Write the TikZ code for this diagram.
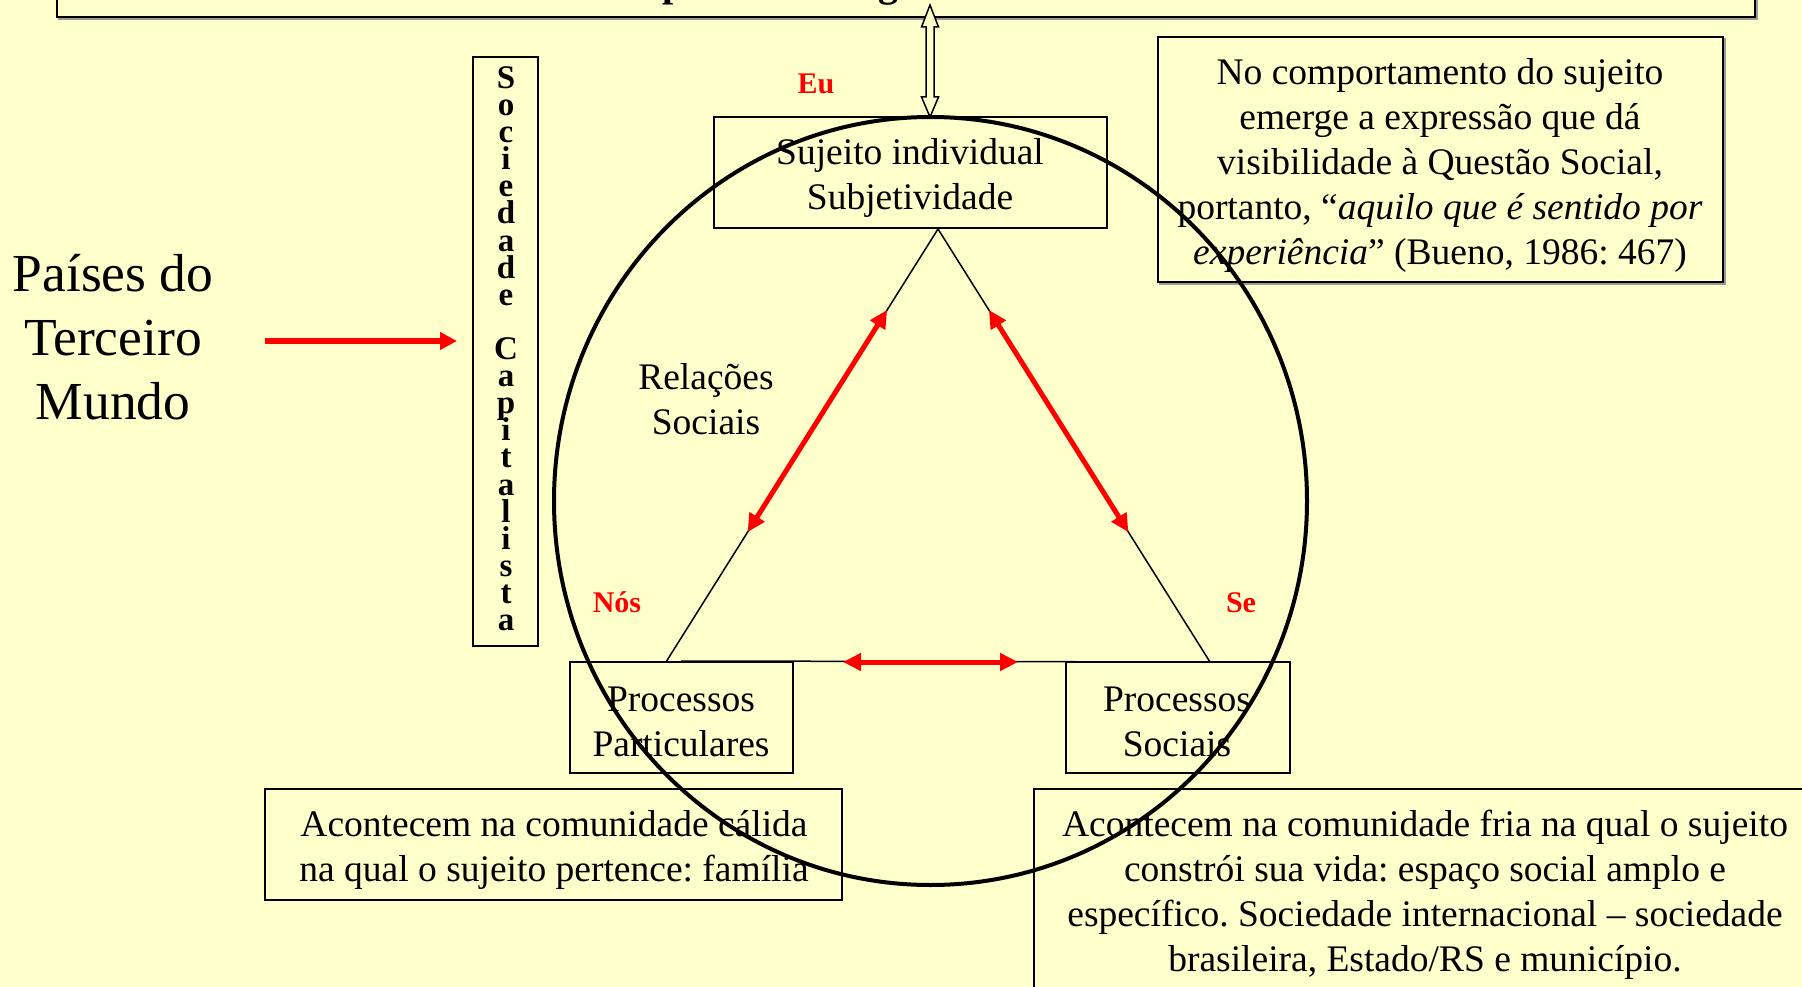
\documentclass[tikz,border=0pt]{standalone}
\usepackage{fontspec}
\setmainfont{Liberation Serif}
\usetikzlibrary{arrows.meta,calc}
\definecolor{bg}{RGB}{255,255,204}
\definecolor{myred}{RGB}{255,0,0}
\frenchspacing
\begin{document}
\begin{tikzpicture}[x=1pt,y=-1pt,
  box/.style={draw=black,line width=2pt},
  boxshadow/.style={draw=black!40,line width=2pt},
  txt/.style={align=center,font=\fontsize{37.5}{45}\selectfont,inner sep=0pt},
  lbl/.style={text=myred,font=\fontsize{30}{36}\selectfont\bfseries,inner sep=0pt,anchor=base},
  vlet/.style={font=\fontsize{33}{33}\selectfont\bfseries,inner sep=0pt,anchor=base},
  redtip/.tip={Triangle[length=18pt,width=17pt]},
  redarrow/.style={draw=myred,line width=5pt,redtip-redtip},
  tri/.style={line width=1.5pt}]
\fill[bg] (0,0) rectangle (1802,987);
\useasboundingbox (0,0) rectangle (1802,987);
\clip (0,0) rectangle (1802,987);

% top (cut-off) box
\draw[boxshadow] (59,-60) rectangle (1757,19);
\draw[box,fill=bg] (57,-60) rectangle (1755,17);
\node[font=\fontsize{40}{40}\selectfont\bfseries,inner sep=0pt,anchor=base west] (tp) at (662,-3) {p};
\node[font=\fontsize{40}{40}\selectfont\bfseries,inner sep=0pt,anchor=base west] (tg) at (878,-3) {g};

% hollow double arrow
\draw[line width=1.5pt,fill=bg] (930,5) -- (938.5,27) -- (934,27) -- (934,97) -- (938.5,97) -- (930,117)
  -- (921.5,97) -- (926,97) -- (926,27) -- (921.5,27) -- cycle;

% Paises do Terceiro Mundo
\node[align=center,font=\fontsize{53.5}{64}\selectfont,inner sep=0pt] (paises) at (113,337) {Países do\\Terceiro\\Mundo};
\coordinate (pa1) at (265,341);
\coordinate (pa2) at (457,341);
\draw[draw=myred,line width=6pt,-{Triangle[length=17pt,width=17pt]}] (pa1) -- (pa2);

% Sociedade Capitalista
\draw[box] (473,57) rectangle (538,646);
\foreach \l [count=\i from 0] in {S,o,c,i,e,d,a,d,e}
  \node[vlet] (sa\i) at (506,88.5+\i*27.1) {\l};
\foreach \l [count=\i from 10] in {C,a,p,i,t,a,l,i,s,t,a}
  \node[vlet] (sb\i) at (506,88.5+\i*27.1) {\l};

% Sujeito box
\draw[box] (714,117) rectangle (1107,228);
\node[txt] (suj) at (910,178) {Sujeito individual\\Subjetividade};

% labels
\node[lbl] (eu) at (816,94) {Eu};
\node[lbl] (nos) at (617,612) {Nós};
\node[lbl] (se) at (1241,612) {Se};

% Relacoes sociais
\node[txt] (rel) at (706,399) {Relações\\Sociais};

% triangle
\coordinate (apex) at (938,229);
\coordinate (bl) at (666,662);
\coordinate (br) at (1210,662);
\coordinate (bs) at (681,661);
\draw[tri] (bl) -- (apex) -- (br);
\draw[tri] (bs) -- (br);
\coordinate (la1) at ($(apex)!0.187!(bl)$);
\coordinate (la2) at ($(apex)!0.700!(bl)$);
\coordinate (ra1) at ($(apex)!0.187!(br)$);
\coordinate (ra2) at ($(apex)!0.700!(br)$);
\coordinate (ba1) at (843,662);
\coordinate (ba2) at (1018,662);
\draw[redarrow] (la1) -- (la2);
\draw[redarrow] (ra1) -- (ra2);
\draw[redarrow] (ba1) -- (ba2);

% Processos boxes
\draw[box] (570,662) rectangle (793,773);
\node[txt] (pp) at (681,722) {Processos\\Particulares};
\draw[box] (1066,662) rectangle (1290,773);
\node[txt] (ps) at (1177,722) {Processos\\Sociais};

% comment box top right
\draw[boxshadow] (1160,39) rectangle (1725,284);
\draw[box,fill=bg] (1158,37) rectangle (1723,282);
\node[txt] (com) at (1440,165) {No comportamento do sujeito\\emerge a expressão que dá\\visibilidade à Questão Social,\\portanto, “\textit{aquilo que é sentido por}\\\textit{experiência}” (Bueno, 1986: 467)};

% bottom boxes
\draw[box] (265,789) rectangle (842,900);
\node[txt] (cal) at (554,850) {Acontecem na comunidade cálida\\na qual o sujeito pertence: família};
\draw[box] (1034,789) rectangle (1830,1020);
\node[txt] (fria) at (1425,895) {Acontecem na comunidade fria na qual o sujeito\\constrói sua vida: espaço social amplo e\\específico. Sociedade internacional – sociedade\\brasileira, Estado/RS e município.};

% big circle
\coordinate (cc) at (930.5,501);
\draw[line width=4pt] (cc) ellipse [x radius=376.5, y radius=384];
\end{tikzpicture}
\end{document}
